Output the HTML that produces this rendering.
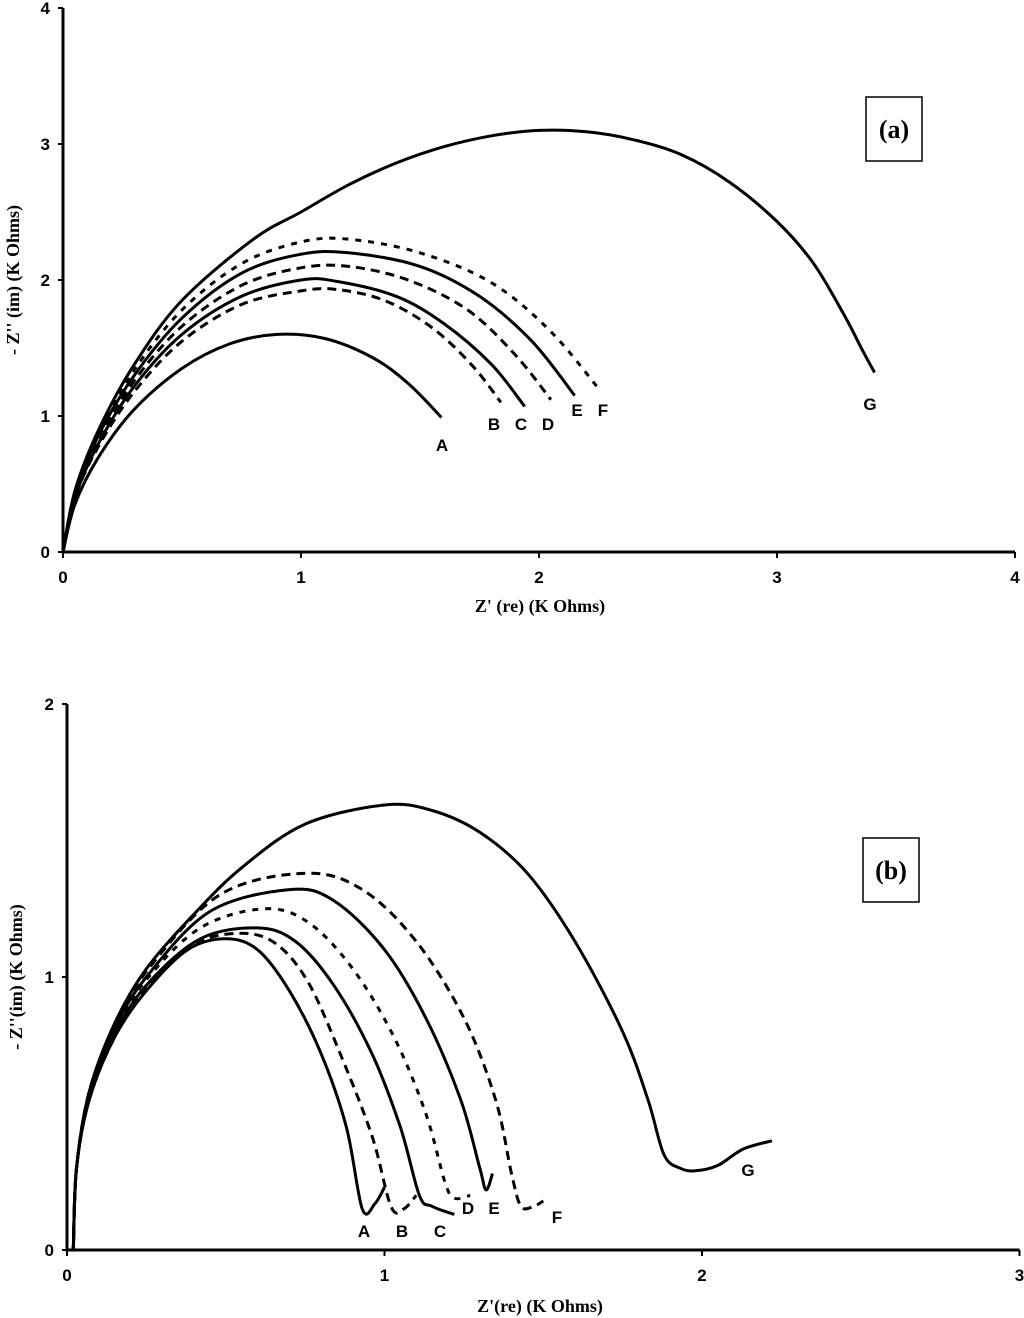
<!DOCTYPE html>
<html><head><meta charset="utf-8"><style>
html,body{margin:0;padding:0;background:#fff}
svg{display:block}
.tick{font-family:"Liberation Sans",sans-serif;font-weight:bold;font-size:17px}
.title{font-family:"Liberation Serif",serif;font-weight:bold;font-size:18px}
.lab{font-family:"Liberation Sans",sans-serif;font-weight:bold;font-size:17px}
.leg{font-family:"Liberation Serif",serif;font-weight:bold;font-size:26px}
</style></head><body>
<svg id="svg" width="1024" height="1318" viewBox="0 0 1024 1318"></svg>
<script>
// Chart (a) data
const aTicksX=[0,1,2,3,4];
const aTicksY=[0,1,2,3,4];
const aSeriesNames=["A","B","C","D","E","F","G"];
const aA=[[0,0],[0.05,0.35],[0.15,0.7],[0.3,1.05],[0.5,1.35],[0.7,1.53],[0.9,1.6],[1.1,1.57],[1.3,1.43],[1.45,1.24],[1.59,0.99]];
const aB=[[0,0],[0.05,0.4],[0.15,0.78],[0.3,1.18],[0.5,1.55],[0.75,1.82],[1.0,1.92],[1.15,1.93],[1.35,1.85],[1.55,1.65],[1.72,1.37],[1.84,1.1]];
const aC=[[0,0],[0.05,0.4],[0.15,0.8],[0.3,1.22],[0.5,1.6],[0.75,1.88],[1.0,2.0],[1.15,1.99],[1.4,1.88],[1.6,1.68],[1.8,1.38],[1.94,1.07]];
const aD=[[0,0],[0.05,0.42],[0.15,0.83],[0.3,1.26],[0.5,1.66],[0.75,1.96],[1.0,2.09],[1.2,2.1],[1.45,2.0],[1.7,1.78],[1.9,1.45],[2.05,1.12]];
const aE=[[0,0],[0.05,0.43],[0.15,0.86],[0.3,1.3],[0.5,1.72],[0.75,2.05],[1.0,2.19],[1.2,2.2],[1.5,2.1],[1.75,1.88],[1.97,1.55],[2.15,1.15]];
const aF=[[0,0],[0.05,0.44],[0.15,0.88],[0.3,1.34],[0.5,1.78],[0.75,2.12],[1.0,2.28],[1.2,2.3],[1.5,2.2],[1.8,1.98],[2.05,1.62],[2.26,1.18]];
const aG=[[0,0],[0.05,0.45],[0.15,0.9],[0.3,1.38],[0.5,1.85],[0.8,2.3],[1.0,2.5],[1.2,2.7],[1.4,2.86],[1.6,2.98],[1.8,3.06],[2.0,3.1],[2.2,3.09],[2.4,3.03],[2.6,2.92],[2.8,2.72],[3.0,2.43],[3.15,2.13],[3.28,1.75],[3.36,1.48],[3.41,1.32]];
// Chart (b) data
const bTicksX=[0,1,2,3];
const bTicksY=[0,1,2];
const bA=[[0.02,0],[0.03,0.3],[0.07,0.55],[0.15,0.78],[0.25,0.95],[0.38,1.1],[0.5,1.14],[0.6,1.1],[0.7,0.95],[0.8,0.72],[0.88,0.45],[0.93,0.15],[0.97,0.17],[1.0,0.23]];
const bB=[[0.02,0],[0.03,0.3],[0.07,0.55],[0.15,0.78],[0.25,0.96],[0.4,1.12],[0.55,1.16],[0.66,1.12],[0.76,0.98],[0.86,0.72],[0.96,0.42],[1.02,0.16],[1.06,0.15],[1.1,0.2]];
const bC=[[0.02,0],[0.03,0.3],[0.07,0.56],[0.15,0.79],[0.25,0.97],[0.42,1.14],[0.6,1.18],[0.72,1.13],[0.84,0.97],[0.96,0.72],[1.05,0.45],[1.11,0.2],[1.15,0.16],[1.22,0.13]];
const bD=[[0.02,0],[0.03,0.3],[0.07,0.57],[0.15,0.8],[0.25,0.99],[0.42,1.18],[0.62,1.25],[0.76,1.2],[0.9,1.03],[1.03,0.78],[1.13,0.5],[1.19,0.25],[1.22,0.19],[1.27,0.2]];
const bE=[[0.02,0],[0.03,0.3],[0.07,0.57],[0.15,0.81],[0.25,1.0],[0.45,1.24],[0.7,1.32],[0.84,1.28],[1.0,1.1],[1.13,0.85],[1.24,0.55],[1.3,0.3],[1.32,0.22],[1.34,0.28]];
const bF=[[0.02,0],[0.03,0.3],[0.07,0.58],[0.15,0.82],[0.25,1.02],[0.48,1.3],[0.75,1.38],[0.93,1.32],[1.1,1.13],[1.25,0.85],[1.35,0.55],[1.4,0.28],[1.43,0.16],[1.47,0.16],[1.5,0.18]];
const bG=[[0.02,0],[0.03,0.3],[0.07,0.58],[0.15,0.83],[0.25,1.03],[0.4,1.23],[0.55,1.4],[0.75,1.56],[1.0,1.63],[1.15,1.61],[1.3,1.53],[1.45,1.38],[1.6,1.13],[1.75,0.8],[1.83,0.55],[1.88,0.35],[1.93,0.3],[1.98,0.29],[2.05,0.31],[2.13,0.37],[2.22,0.4]];

const NS="http://www.w3.org/2000/svg";
const svg=document.getElementById('svg');
function mk(tag,attrs,parent){const e=document.createElementNS(NS,tag);for(const k in attrs)e.setAttribute(k,attrs[k]);(parent||svg).appendChild(e);return e;}
function pathD(pts,sx,sy){
  const p=pts.map(q=>[sx(q[0]),sy(q[1])]);
  let d="M"+p[0][0].toFixed(1)+","+p[0][1].toFixed(1);
  for(let i=0;i<p.length-1;i++){
    const p0=p[i-1]||p[i],p1=p[i],p2=p[i+1],p3=p[i+2]||p2;
    const c1=[p1[0]+(p2[0]-p0[0])/6,p1[1]+(p2[1]-p0[1])/6];
    const c2=[p2[0]-(p3[0]-p1[0])/6,p2[1]-(p3[1]-p1[1])/6];
    d+=" C"+c1[0].toFixed(1)+","+c1[1].toFixed(1)+" "+c2[0].toFixed(1)+","+c2[1].toFixed(1)+" "+p2[0].toFixed(1)+","+p2[1].toFixed(1);
  }
  return d;
}
function drawChart(cfg){
  const g=mk('g',{});
  
  
  const sx=v=>cfg.x0+v*cfg.kx, sy=v=>cfg.y0-v*cfg.ky;
  const ax=mk('path',{d:`M${cfg.x0},${sy(cfg.ymax)} V${cfg.y0} H${sx(cfg.xmax)}`,stroke:'#000','stroke-width':3,fill:'none'},g);
  
  
  cfg.tx.forEach(t=>{
    mk('line',{x1:sx(t),x2:sx(t),y1:cfg.y0,y2:cfg.y0+6,stroke:'#000','stroke-width':2},g);
    const tl=mk('text',{x:sx(t),y:cfg.y0+31,'text-anchor':'middle',class:'tick'},g);tl.textContent=t;
    
    
  });
  cfg.ty.forEach(t=>{
    mk('line',{x1:cfg.x0-5,x2:cfg.x0,y1:sy(t),y2:sy(t),stroke:'#000','stroke-width':2},g);
    const tl=mk('text',{x:cfg.x0-13,y:sy(t)+6,'text-anchor':'end',class:'tick'},g);tl.textContent=t;
    
    
  });
  const xt=mk('text',{x:cfg.xtx,y:cfg.xty,'text-anchor':'middle',class:'title'},g);xt.textContent=cfg.xtitle;
  
  
  const yt=mk('text',{x:0,y:0,'text-anchor':'middle',class:'title',transform:`translate(${cfg.ytx},${cfg.yty}) rotate(-90)`},g);yt.textContent=cfg.ytitle;
  
  
  cfg.series.forEach(s=>{
    const p=mk('path',{d:pathD(s.pts,sx,sy),stroke:'#000','stroke-width':3,fill:'none','stroke-dasharray':s.dash||'none'},g);
    
    
    const l=mk('text',{x:s.lx,y:s.ly,'text-anchor':'middle',class:'lab'},g);l.textContent=s.n;
    
    
  });
  const r=mk('rect',{x:cfg.bx,y:cfg.by,width:56,height:64,fill:'#fff',stroke:'#000','stroke-width':1.5},g);
  
  
  const bt=mk('text',{x:cfg.bx+28,y:cfg.by+41,'text-anchor':'middle',class:'leg'},g);bt.textContent=cfg.tag;
  
  
}
drawChart({name:'chart-a',x0:63,y0:552,kx:238,ky:136,xmax:4,ymax:4,tx:aTicksX,ty:aTicksY,
  xtitle:"Z' (re) (K Ohms)",xtx:540,xty:612,ytitle:"- Z'' (im) (K Ohms)",ytx:19,yty:280,
  bx:866,by:97,tag:'(a)',
  series:[{n:'A',pts:aA,lx:442,ly:451},{n:'B',pts:aB,dash:'9,6',lx:494,ly:430},{n:'C',pts:aC,lx:521,ly:430},
  {n:'D',pts:aD,dash:'9,6',lx:548,ly:430},{n:'E',pts:aE,lx:577,ly:416},{n:'F',pts:aF,dash:'6,7',lx:603,ly:416},{n:'G',pts:aG,lx:870,ly:410}]});
drawChart({name:'chart-b',x0:67,y0:1250,kx:317.5,ky:273,xmax:3,ymax:2,tx:bTicksX,ty:bTicksY,
  xtitle:"Z'(re) (K Ohms)",xtx:540,xty:1312,ytitle:"- Z''(im) (K Ohms)",ytx:22,yty:977,
  bx:863,by:838,tag:'(b)',
  series:[{n:'A',pts:bA,lx:364,ly:1237},{n:'B',pts:bB,dash:'9,6',lx:402,ly:1237},{n:'C',pts:bC,lx:440,ly:1237},
  {n:'D',pts:bD,dash:'6,7',lx:468,ly:1214},{n:'E',pts:bE,lx:494,ly:1214},{n:'F',pts:bF,dash:'9,6',lx:557,ly:1223},{n:'G',pts:bG,lx:748,ly:1176}]});
</script>
</body></html>
